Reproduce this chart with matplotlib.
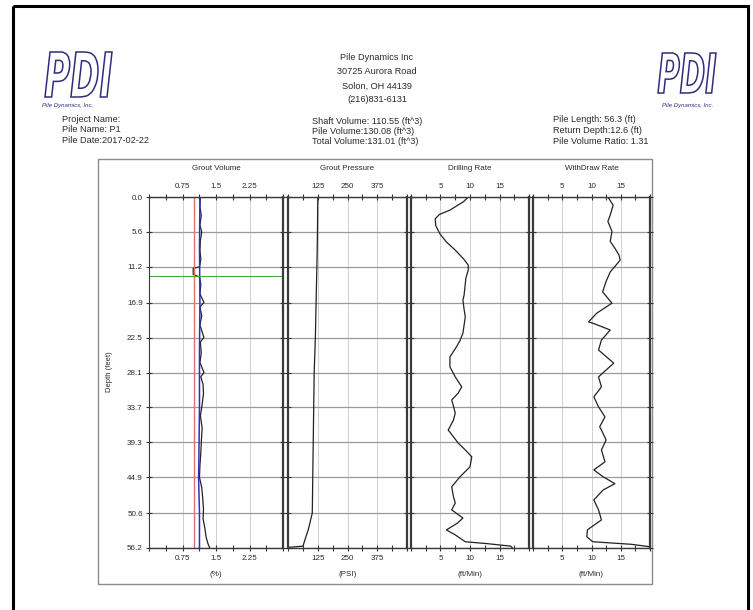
import numpy as np
import matplotlib
matplotlib.use('Agg')
import matplotlib.pyplot as plt
import matplotlib.patches as patches
from matplotlib.textpath import TextPath
from matplotlib.font_manager import FontProperties
from matplotlib.transforms import Affine2D
from matplotlib.ticker import AutoMinorLocator

plt.rcParams['font.family'] = ['Liberation Sans', 'DejaVu Sans']

W, H = 753, 610

# depth ticks and header info
depth_ticks = [0.0, 5.6, 11.2, 16.9, 22.5, 28.1, 33.7, 39.3, 44.9, 50.6, 56.2]
pile_length = 56.2
return_depth = 12.6

# grout volume (black curve + blue average + red target)
gv_depth = [0, 1.5, 3, 4.5, 5.6, 7, 8.5, 10, 11.2, 11.4, 12.4, 12.8, 14, 15.5, 16.9, 17.6,
            19, 20.5, 22.5, 23.2, 25, 26.5, 28.1, 28.8, 30, 31.5, 33.7, 35, 37, 39.3,
            41, 43, 44.9, 46.5, 48, 50, 51.5, 53, 54.5, 55.5, 56.2]
gv_val = [1.15, 1.14, 1.17, 1.14, 1.18, 1.15, 1.14, 1.16, 1.13, 0.99, 0.99, 1.13, 1.16, 1.14, 1.23, 1.14,
          1.18, 1.14, 1.23, 1.15, 1.17, 1.14, 1.23, 1.16, 1.21, 1.22, 1.18, 1.15, 1.19, 1.17,
          1.16, 1.14, 1.13, 1.18, 1.2, 1.22, 1.21, 1.25, 1.28, 1.32, 1.36]
gv_avg_depth = [0, 8, 16.9, 25, 33.7, 40, 44.9, 50.6, 56.2]
gv_avg_val = [1.14, 1.13, 1.14, 1.13, 1.13, 1.12, 1.11, 1.13, 1.13]
gv_target = 1.0

# grout pressure
pr_depth = [0, 5, 10, 16.9, 22.5, 28.1, 33.7, 39.3, 44.9, 50.6, 52.2, 53.3, 54.9, 55.9, 56.1]
pr_val = [125, 124, 122, 118, 115, 110, 108, 106, 104, 102, 92, 85, 71, 63, 0]

# drilling rate
dr_depth = [0, 0.75, 2.1, 2.8, 3.5, 4.6, 5.9, 7.2, 8.5, 9.9, 10.9, 11.7, 13.0, 15.7, 16.5,
            18.0, 19.2, 20.5, 21.8, 23.0, 24.0, 25.6, 27.2, 28.8, 30.4, 31.4, 32.5, 33.5, 34.6, 35.7,
            36.8, 37.3, 38.4, 39.4, 40.5, 41.6, 43.2, 44.8, 46.4, 48.0, 49.0, 50.1, 51.4, 52.2, 53.3,
            54.1, 55.2, 55.5, 55.9, 56.2]
dr_val = [9.7, 8.9, 6.6, 4.8, 4.1, 4.2, 4.9, 6.0, 7.5, 8.9, 9.7, 9.7, 9.3, 9.0, 8.8,
          9.0, 9.2, 9.0, 8.8, 8.3, 7.7, 6.6, 6.6, 7.5, 8.6, 8.0, 6.9, 7.2, 7.5, 7.2,
          6.6, 6.3, 7.2, 8.0, 9.2, 10.3, 10.0, 8.3, 6.9, 7.2, 7.5, 6.9, 8.8, 7.9, 6.0,
          7.5, 9.2, 12.9, 16.9, 17.2]

# withdraw rate
wd_depth = [0, 1.3, 2.9, 3.9, 5.5, 7.1, 8.2, 9.3, 10.1, 10.9, 12.0, 13.5, 15.2, 17.0, 18.6,
            20.0, 20.3, 21.3, 22.9, 24.5, 26.6, 28.8, 30.4, 32.0, 33.6, 35.2, 36.8, 37.3, 38.9,
            40.5, 42.4, 43.7, 44.8, 45.9, 46.9, 48.5, 50.1, 51.7, 53.3, 54.4, 55.2, 55.6, 56.0]
wd_val = [12.8, 13.7, 13.2, 12.8, 13.5, 13.2, 14.0, 14.7, 14.9, 14.2, 13.2, 12.5, 11.9, 13.5, 10.9,
          9.5, 10.5, 13.2, 11.7, 11.2, 13.8, 11.2, 11.7, 10.4, 11.2, 12.3, 11.4, 11.7, 12.5,
          11.7, 12.3, 10.4, 12.0, 14.0, 12.0, 10.4, 11.2, 11.7, 9.3, 9.2, 10.2, 16.7, 20.0]

panels = [
    dict(title='Grout Volume', unit='(%)', x0=149, x1=283, lim=3.0,
         ticks=[0, 0.75, 1.5, 2.25, 3.0], labels=['', '0.75', '1.5', '2.25', '']),
    dict(title='Grout Pressure', unit='(PSI)', x0=288, x1=407, lim=500,
         ticks=[0, 125, 250, 375, 500], labels=['', '125', '250', '375', '']),
    dict(title='Drilling Rate', unit='(ft/Min)', x0=411, x1=529, lim=20,
         ticks=[0, 5, 10, 15, 20], labels=['', '5', '10', '15', '']),
    dict(title='WithDraw Rate', unit='(ft/Min)', x0=533, x1=650, lim=20,
         ticks=[0, 5, 10, 15, 20], labels=['', '5', '10', '15', '']),
]
series = [(gv_depth, gv_val), (pr_depth, pr_val), (dr_depth, dr_val), (wd_depth, wd_val)]

TOP, BOT = 197, 548
txt = '#2a2a2a'
hdr = ['Liberation Sans Narrow', 'Liberation Sans', 'DejaVu Sans']

fig = plt.figure(figsize=(W / 100, H / 100), dpi=100)
bg = fig.add_axes([0, 0, 1, 1])
bg.set_xlim(0, W)
bg.set_ylim(H, 0)
bg.axis('off')

# frames
bg.add_patch(patches.Rectangle((13, 6), 735, 620, fill=False, ec='black', lw=2.2))
bg.add_patch(patches.Rectangle((98, 159), 554, 425, fill=False, ec='#8a8a8a', lw=1.0))


def logo(x0, y0, w, h, sub_x, sub_y):
    tp = TextPath((0, 0), 'PDI', prop=FontProperties(family='DejaVu Sans', weight='bold', style='italic'))
    ext = tp.get_extents()
    tr = Affine2D().translate(-ext.x0, -ext.y0).scale(w / ext.width, -h / ext.height).translate(x0, y0 + h)
    bg.add_patch(patches.PathPatch(tr.transform_path(tp), fc='white', ec='#2d2d80', lw=1.1))
    bg.text(sub_x, sub_y, 'Pile Dynamics, Inc.', fontsize=4.3, style='italic', color='#2d2d80',
            ha='center', va='center')


logo(45, 52, 67, 45, 68, 105)
logo(658, 53, 58, 40, 688, 106)

fs = 6.6
for i, s in enumerate(['Project Name:', 'Pile Name: P1', 'Pile Date:2017-02-22']):
    bg.text(62, 119 + 10.7 * i, s, fontsize=fs, color=txt, va='center', family=hdr)
for i, s in enumerate(['Pile Dynamics Inc', '30725 Aurora Road', 'Solon, OH 44139', '(216)831-6131']):
    bg.text(377, 58 + 14 * i, s, fontsize=fs, color=txt, va='center', ha='center', family=hdr)
for i, s in enumerate(['Shaft Volume: 110.55 (ft^3)', 'Pile Volume:130.08 (ft^3)', 'Total Volume:131.01 (ft^3)']):
    bg.text(312, 121 + 10.5 * i, s, fontsize=fs, color=txt, va='center', family=hdr)
for i, s in enumerate(['Pile Length: 56.3 (ft)', 'Return Depth:12.6 (ft)', 'Pile Volume Ratio: 1.31']):
    bg.text(553, 120 + 10.7 * i, s, fontsize=fs, color=txt, va='center', family=hdr)

bg.text(110, 372, 'Depth (feet)', fontsize=5.5, color=txt, rotation=90, ha='center', va='center', family=hdr)

for i, (p, (d, v)) in enumerate(zip(panels, series)):
    ax = fig.add_axes([p['x0'] / W, 1 - BOT / H, (p['x1'] - p['x0']) / W, (BOT - TOP) / H])
    ax.set_xlim(0, p['lim'])
    ax.set_ylim(pile_length, 0)
    ax.set_xticks(p['ticks'])
    ax.set_xticklabels(p['labels'])
    ax.xaxis.set_minor_locator(AutoMinorLocator(2))
    ax.set_yticks(depth_ticks)
    ax.xaxis.set_ticks_position('both')
    ax.yaxis.set_ticks_position('both')
    ax.tick_params(axis='x', which='both', labeltop=True, labelbottom=True, direction='inout',
                   length=5, width=0.8, labelsize=5.8, labelcolor=txt, pad=2.5, color='#333333')
    ax.tick_params(axis='x', which='minor', length=4)
    ax.tick_params(axis='y', direction='inout', length=5, width=0.8, labelsize=5.8,
                   labelcolor=txt, color='#333333', pad=2,
                   labelleft=(i == 0), labelright=False)
    for lb in ax.get_xticklabels() + ax.get_yticklabels():
        lb.set_family(hdr)
    if i == 0:
        ax.set_yticklabels(['%.1f' % t for t in depth_ticks], family=hdr)
    ax.grid(axis='y', color='#9a9a9a', lw=0.9)
    ax.grid(axis='x', color='#cfcfcf', lw=0.7)
    for side, sp in ax.spines.items():
        sp.set_color('#3a3a3a')
        sp.set_linewidth(1.6 if side in ('left', 'right') else 1.0)
    ax.plot(v, d, color='#222222', lw=0.9)
    if i == 0:
        ax.spines['left'].set_linewidth(0.8)
        ax.axvline(gv_target, color='#e07070', lw=1.0)
        ax.plot(gv_avg_val, gv_avg_depth, color='#3030c0', lw=1.1)
        ax.axhline(return_depth, color='#3fae3f', lw=0.8)
    cx = (p['x0'] + p['x1']) / 2
    bg.text(cx, 169, p['title'], fontsize=5.8, color=txt, ha='center', va='center', family=hdr)
    bg.text(cx, 575, p['unit'], fontsize=5.8, color=txt, ha='center', va='center', family=hdr)

fig.savefig('out.png', dpi=100)
